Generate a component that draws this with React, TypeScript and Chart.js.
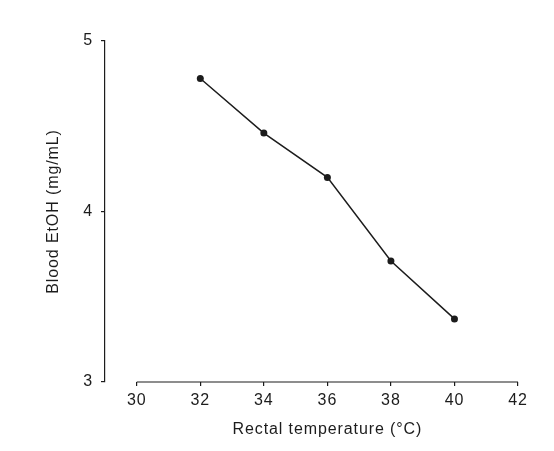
import React, { useEffect, useRef } from "react";
import { Chart, registerables } from "chart.js";

Chart.register(...registerables);

// Rectal temperature (°C) vs blood ethanol (mg/mL)
const temperatures = [32, 34, 36, 38, 40];
const bloodEtOH = [4.78, 4.46, 4.2, 3.71, 3.37];
const xTicks = [30, 32, 34, 36, 38, 40, 42];
const yTicks = [3, 4, 5];
const xTitle = "Rectal temperature (°C)";
const yTitle = "Blood EtOH (mg/mL)";

const ink = "#1c1c1c";
const fontFamily = "'Liberation Sans', Arial, Helvetica, sans-serif";
const font = { family: fontFamily, size: 16 };

// x axis line only spans the labelled range, and its title is centred on it
const xAxisPlugin = {
  id: "xAxisPlugin",
  beforeDraw(chart: any) {
    chart.ctx.letterSpacing = "0.9px";
  },
  beforeDatasetsDraw(chart: any) {
    const { ctx, chartArea } = chart;
    const x = chart.scales.x;
    const x0 = x.getPixelForValue(xTicks[0]);
    const x1 = x.getPixelForValue(xTicks[xTicks.length - 1]);
    ctx.save();
    ctx.strokeStyle = ink;
    ctx.lineWidth = 1.2;
    ctx.beginPath();
    ctx.moveTo(x0, chartArea.bottom);
    ctx.lineTo(x1, chartArea.bottom);
    ctx.stroke();

    ctx.fillStyle = ink;
    ctx.font = `16px ${fontFamily}`;
    ctx.textAlign = "center";
    ctx.textBaseline = "middle";
    ctx.fillText(xTitle, (x0 + x1) / 2, chartArea.bottom + 48);
    ctx.restore();
  },
};

const App: React.FC = () => {
  const canvasRef = useRef<HTMLCanvasElement>(null);
  const chartRef = useRef<Chart | null>(null);

  useEffect(() => {
    if (!canvasRef.current) return;
    if (chartRef.current) chartRef.current.destroy();

    chartRef.current = new Chart(canvasRef.current, {
      type: "line",
      data: {
        datasets: [
          {
            data: temperatures.map((t, i) => ({ x: t, y: bloodEtOH[i] })),
            borderColor: ink,
            borderWidth: 1.5,
            pointRadius: 3.5,
            pointBackgroundColor: ink,
            pointBorderColor: ink,
            pointBorderWidth: 0,
            tension: 0,
          },
        ],
      },
      options: {
        responsive: true,
        maintainAspectRatio: false,
        animation: false,
        layout: { padding: { top: 41, right: 36, bottom: 0, left: 0 } },
        plugins: {
          legend: { display: false },
          tooltip: { enabled: false },
        },
        scales: {
          x: {
            type: "linear",
            min: 29,
            max: 42,
            afterBuildTicks: (s: any) => {
              s.ticks = xTicks.map((v) => ({ value: v }));
            },
            afterFit: (s: any) => {
              s.height = 69;
            },
            border: { display: false },
            grid: {
              drawOnChartArea: false,
              drawTicks: true,
              tickLength: 4,
              color: ink,
              lineWidth: 1.2,
            },
            ticks: {
              color: ink,
              font,
              padding: 5.4,
              maxRotation: 0,
              autoSkip: false,
            },
            title: { display: false },
          },
          y: {
            min: 3,
            max: 5,
            afterBuildTicks: (s: any) => {
              s.ticks = yTicks.map((v) => ({ value: v }));
            },
            afterFit: (s: any) => {
              s.width = 105;
            },
            border: { display: true, color: ink, width: 1.2 },
            grid: {
              drawOnChartArea: false,
              drawTicks: true,
              tickLength: 4,
              color: ink,
              lineWidth: 1.2,
            },
            ticks: { color: ink, font, padding: 8 },
            title: {
              display: true,
              text: yTitle,
              color: ink,
              font,
              padding: { top: 44.4, bottom: 0 },
            },
          },
        },
      },
      plugins: [xAxisPlugin],
    });

    return () => {
      if (chartRef.current) {
        chartRef.current.destroy();
        chartRef.current = null;
      }
    };
  }, []);

  return (
    <div style={{ position: "fixed", top: 0, left: 0, width: 554, height: 451, background: "#fff" }}>
      <canvas ref={canvasRef} />
    </div>
  );
};

export default App;
